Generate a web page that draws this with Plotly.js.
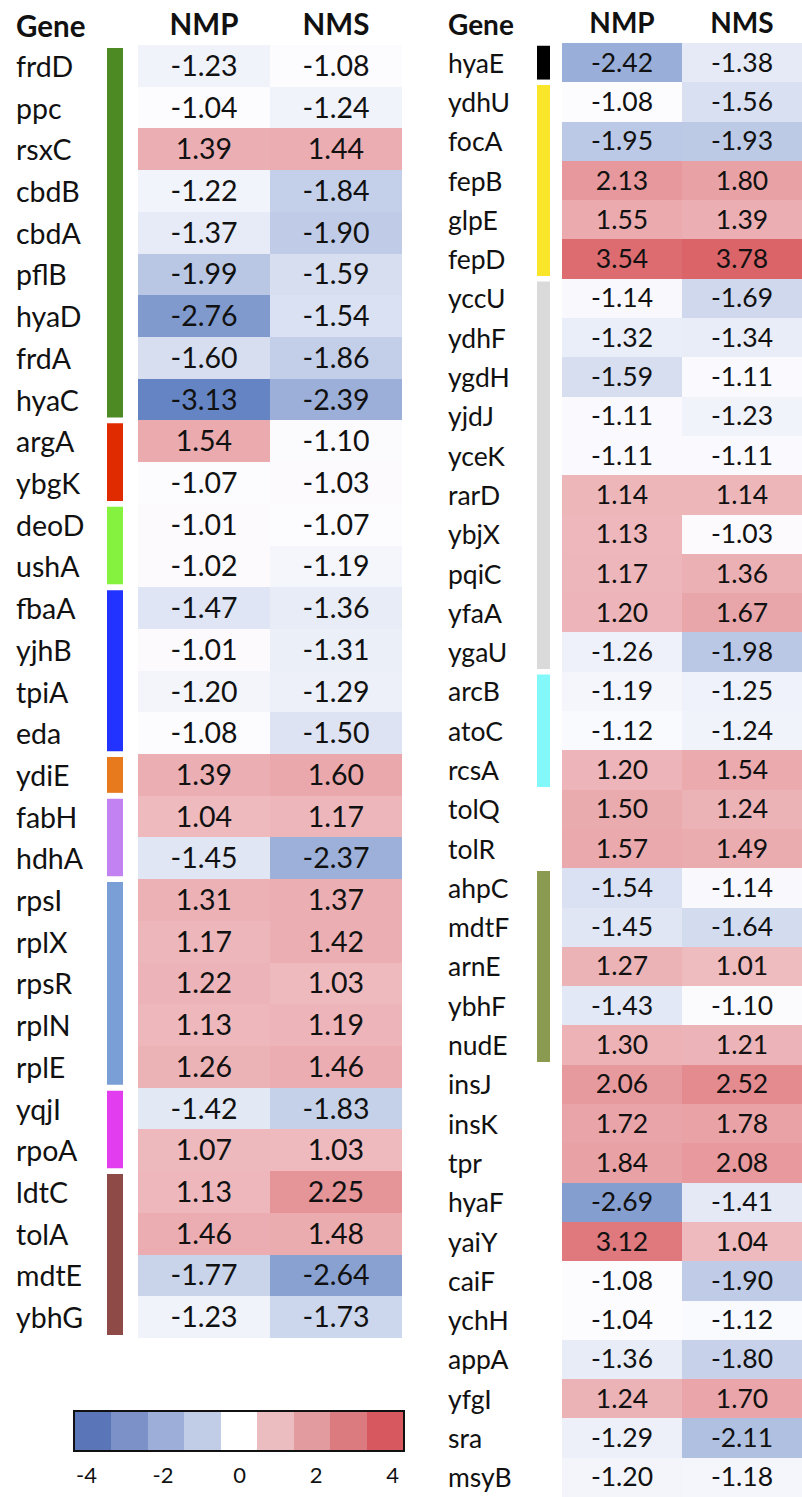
<!DOCTYPE html>
<html>
<head>
<meta charset="utf-8">
<script src="https://cdn.plot.ly/plotly-3.0.1.min.js"></script>
<style>html,body{margin:0;padding:0;background:#fff;}#chart{width:802px;height:1497px;}</style>
</head>
<body>
<div id="chart"></div>
<script>
// ---- data ----
const columns = ['NMP', 'NMS'];

const leftGenes = ['frdD','ppc','rsxC','cbdB','cbdA','pflB','hyaD','frdA','hyaC','argA','ybgK','deoD','ushA','fbaA','yjhB','tpiA','eda','ydiE','fabH','hdhA','rpsI','rplX','rpsR','rplN','rplE','yqjI','rpoA','ldtC','tolA','mdtE','ybhG'];
const leftNMP = [-1.23,-1.04,1.39,-1.22,-1.37,-1.99,-2.76,-1.60,-3.13,1.54,-1.07,-1.01,-1.02,-1.47,-1.01,-1.20,-1.08,1.39,1.04,-1.45,1.31,1.17,1.22,1.13,1.26,-1.42,1.07,1.13,1.46,-1.77,-1.23];
const leftNMS = [-1.08,-1.24,1.44,-1.84,-1.90,-1.59,-1.54,-1.86,-2.39,-1.10,-1.03,-1.07,-1.19,-1.36,-1.31,-1.29,-1.50,1.60,1.17,-2.37,1.37,1.42,1.03,1.19,1.46,-1.83,1.03,2.25,1.48,-2.64,-1.73];

const rightGenes = ['hyaE','ydhU','focA','fepB','glpE','fepD','yccU','ydhF','ygdH','yjdJ','yceK','rarD','ybjX','pqiC','yfaA','ygaU','arcB','atoC','rcsA','tolQ','tolR','ahpC','mdtF','arnE','ybhF','nudE','insJ','insK','tpr','hyaF','yaiY','caiF','ychH','appA','yfgI','sra','msyB'];
const rightNMP = [-2.42,-1.08,-1.95,2.13,1.55,3.54,-1.14,-1.32,-1.59,-1.11,-1.11,1.14,1.13,1.17,1.20,-1.26,-1.19,-1.12,1.20,1.50,1.57,-1.54,-1.45,1.27,-1.43,1.30,2.06,1.72,1.84,-2.69,3.12,-1.08,-1.04,-1.36,1.24,-1.29,-1.20];
const rightNMS = [-1.38,-1.56,-1.93,1.80,1.39,3.78,-1.69,-1.34,-1.11,-1.23,-1.11,1.14,-1.03,1.36,1.67,-1.98,-1.25,-1.24,1.54,1.24,1.49,-1.14,-1.64,1.01,-1.10,1.21,2.52,1.78,2.08,-1.41,1.04,-1.90,-1.12,-1.80,1.70,-2.11,-1.18];

// gene groups (colour bars)
const leftGroupFirst = ['frdD','argA','deoD','fbaA','ydiE','fabH','rpsI','yqjI','ldtC'];
const leftGroupLast  = ['hyaC','ybgK','ushA','eda','ydiE','hdhA','rplE','rpoA','ybhG'];
const leftGroupColor = ['#4e8a24','#e02b00','#84f23e','#2233ff','#e87a1e','#c282f2','#7a9fd6','#e23ef0','#8e4a46'];
const rightGroupFirst = ['hyaE','ydhU','yccU','arcB','ahpC'];
const rightGroupLast  = ['hyaE','fepD','ygaU','rcsA','nudE'];
const rightGroupColor = ['#000000','#f9e62a','#dadada','#82f8fb','#8a9a50'];

// legend scale
const legendValues = [-4,-3,-2,-1,0,1,2,3,4];
const legendColors = ['#5a76b8','#7b91c8','#9dafd8','#c1cce6','#ffffff','#ebbdc1','#e29ca0','#db7b80','#d7585e'];
const legendTicks = [-4,-2,0,2,4];

// ---- colour scale (min / median / max, like a 3-colour conditional format) ----
const allVals = leftNMP.concat(leftNMS, rightNMP, rightNMS).slice().sort((a,b)=>a-b);
const zmin = allVals[0], zmax = allVals[allVals.length-1];
const n = allVals.length;
const median = n % 2 ? allVals[(n-1)/2] : (allVals[n/2-1] + allVals[n/2]) / 2;
const midPos = (median - zmin) / (zmax - zmin);
const colorscale = [[0,'#6584c3'],[midPos,'#fcfcff'],[1,'#db6469']];

const FONT = 'Lato, "Open Sans", sans-serif';
const W = 802, H = 1497;
const LS = 28.5, RS = 26.5;

function zOf(a, b) { return a.map((v,i)=>[v, b[i]]); }
function tOf(a, b) { return a.map((v,i)=>[v.toFixed(2), b[i].toFixed(2)]); }

const traces = [
  {
    type:'heatmap', xaxis:'x', yaxis:'y',
    z: zOf(leftNMP, leftNMS), text: tOf(leftNMP, leftNMS),
    x: columns.map((c,i)=>i), y: leftGenes.map((g,i)=>i),
    zmin, zmax, colorscale, showscale:false,
    texttemplate:'%{text}', textfont:{family:FONT, size:LS, color:'#111'},
    hoverinfo:'skip'
  },
  {
    type:'heatmap', xaxis:'x2', yaxis:'y2',
    z: zOf(rightNMP, rightNMS), text: tOf(rightNMP, rightNMS),
    x: columns.map((c,i)=>i), y: rightGenes.map((g,i)=>i),
    zmin, zmax, colorscale, showscale:false,
    texttemplate:'%{text}', textfont:{family:FONT, size:RS, color:'#111'},
    hoverinfo:'skip'
  },
  {
    type:'heatmap', xaxis:'x3', yaxis:'y3',
    z:[legendValues], x: legendValues, y:[0],
    zmin: legendValues[0], zmax: legendValues[legendValues.length-1],
    colorscale: legendColors.map((c,i)=>[i/(legendColors.length-1), c]),
    showscale:false, hoverinfo:'skip'
  },
  { type:'scatter', mode:'markers', xaxis:'x4', yaxis:'y3', x:[], y:[], showlegend:false, hoverinfo:'skip' }
];

const hidden = {showgrid:false, zeroline:false, showticklabels:false, ticks:'', showline:false, fixedrange:true};

const shapes = [];
function addBars(genes, first, last, colors, yref, x0, x1) {
  first.forEach((g,k)=>{
    const a = genes.indexOf(g), b = genes.indexOf(last[k]);
    shapes.push({type:'rect', xref:'paper', yref, x0:x0/W, x1:x1/W,
      y0:a-0.5+0.07, y1:b+0.5-0.07, fillcolor:colors[k], line:{width:0}, layer:'above'});
  });
}
addBars(leftGenes, leftGroupFirst, leftGroupLast, leftGroupColor, 'y', 107, 123);
addBars(rightGenes, rightGroupFirst, rightGroupLast, rightGroupColor, 'y2', 537, 550);

const annotations = [];
leftGenes.forEach((g,i)=>annotations.push({xref:'paper', yref:'y', x:14/W, y:i, text:g, showarrow:false,
  xanchor:'left', yanchor:'middle', font:{family:FONT, size:LS, color:'#111'}}));
rightGenes.forEach((g,i)=>annotations.push({xref:'paper', yref:'y2', x:446/W, y:i, text:g, showarrow:false,
  xanchor:'left', yanchor:'middle', font:{family:FONT, size:RS, color:'#111'}}));
annotations.push({xref:'paper', yref:'paper', x:14/W, y:1-26/H, text:'Gene', showarrow:false,
  xanchor:'left', yanchor:'middle', font:{family:FONT, size:29.5, color:'#111', weight:'bold'}});
annotations.push({xref:'paper', yref:'paper', x:446/W, y:1-24/H, text:'Gene', showarrow:false,
  xanchor:'left', yanchor:'middle', font:{family:FONT, size:28, color:'#111', weight:'bold'}});

const layout = {
  width:W, height:H, margin:{l:0,r:0,t:0,b:0},
  paper_bgcolor:'#fff', plot_bgcolor:'rgba(0,0,0,0)', showlegend:false,
  xaxis:{domain:[138/W, 402/W], range:[-0.5,1.5], anchor:'y', side:'top',
    tickvals: columns.map((c,i)=>i), ticktext: columns, ticks:'', showgrid:false, zeroline:false, showline:false,
    ticklabelstandoff:3,
    tickfont:{family:FONT, size:29.5, color:'#111', weight:'bold'}, fixedrange:true},
  yaxis:Object.assign({domain:[1-1338/H, 1-45/H], range:[leftGenes.length-0.5, -0.5], anchor:'x'}, hidden),
  xaxis2:{domain:[562/W, 1], range:[-0.5,1.5], anchor:'y2', side:'top',
    tickvals: columns.map((c,i)=>i), ticktext: columns, ticks:'', showgrid:false, zeroline:false, showline:false,
    ticklabelstandoff:3,
    tickfont:{family:FONT, size:28, color:'#111', weight:'bold'}, fixedrange:true},
  yaxis2:Object.assign({domain:[0, 1-43/H], range:[rightGenes.length-0.5, -0.5], anchor:'x2'}, hidden),
  xaxis3:Object.assign({domain:[75/W, 403/W], range:[legendValues[0]-0.5, legendValues[legendValues.length-1]+0.5], anchor:'y3'}, hidden,
    {showline:true, mirror:true, linecolor:'#111', linewidth:2}),
  yaxis3:Object.assign({domain:[1-1450/H, 1-1412/H], range:[-0.5,0.5], anchor:'x3'}, hidden,
    {showline:true, mirror:true, linecolor:'#111', linewidth:2}),
  xaxis4:{overlaying:'x3', anchor:'y3', range:[-4.30, 4.27], side:'bottom',
    tickvals: legendTicks, ticktext: legendTicks.map(String), ticks:'outside', ticklen:6, tickcolor:'rgba(0,0,0,0)',
    showgrid:false, zeroline:false, showline:false,
    tickfont:{family:FONT, size:22, color:'#111'}, fixedrange:true},
  shapes, annotations
};

Plotly.newPlot('chart', traces, layout, {displayModeBar:false, staticPlot:true});
</script>
</body>
</html>
